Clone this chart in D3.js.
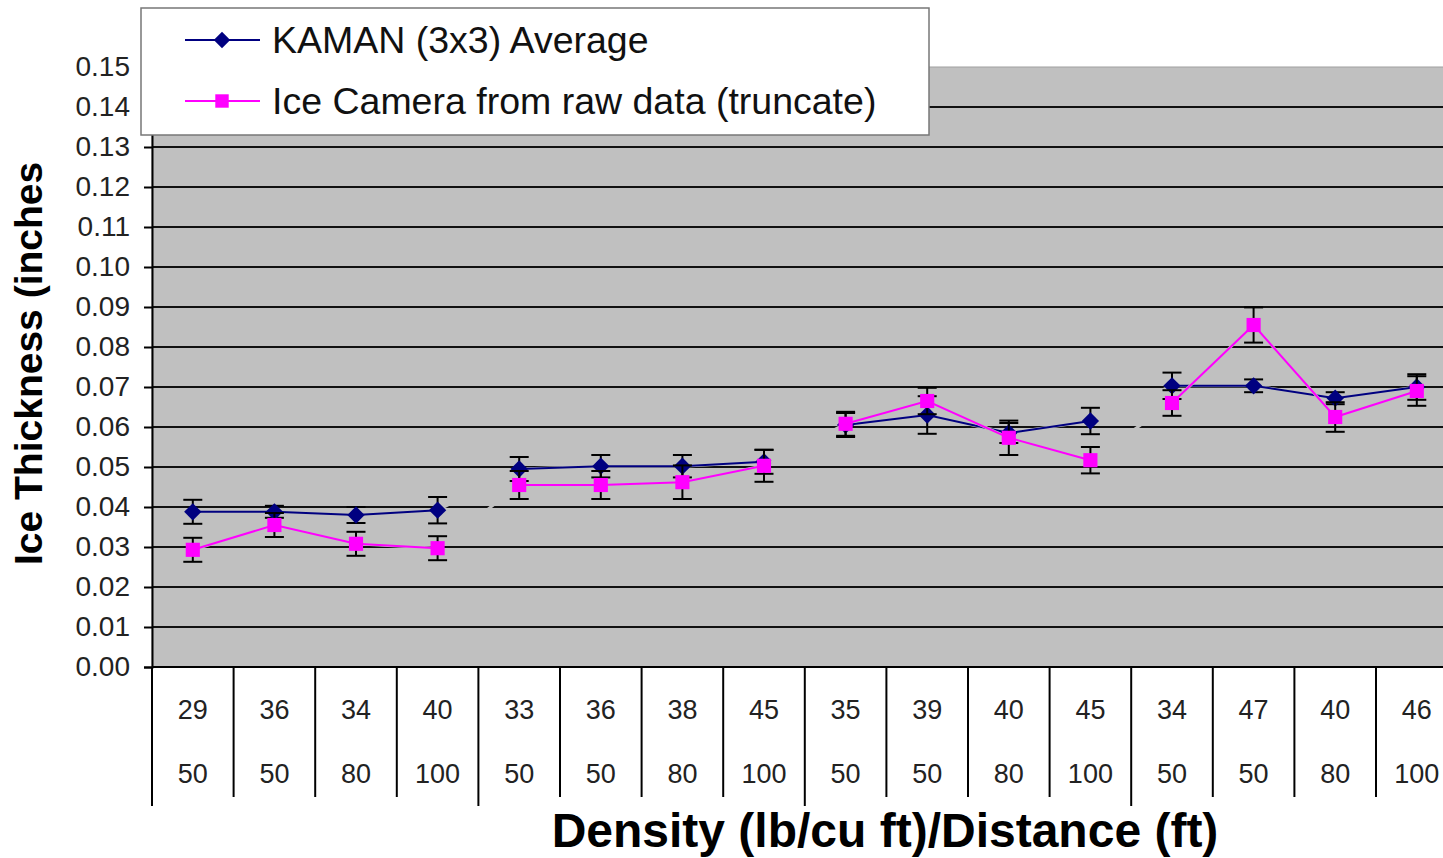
<!DOCTYPE html>
<html lang="en">
<head>
  <meta charset="UTF-8">
  <title>Ice Thickness vs Density / Distance</title>
  <script src="https://d3js.org/d3.v7.min.js"></script>
  <style>
    body { margin: 0; background: #fff; }
    svg { display: block; font-family: "Liberation Sans", Arial, sans-serif; }
    .tick-label { font-size: 28px; fill: #222; }
    .cat-label { font-size: 27px; fill: #222; text-anchor: middle; }
    .legend-text { font-size: 37.5px; fill: #111; }
    .axis-title { font-weight: bold; fill: #000; }
  </style>
</head>
<body>
  <div id="chart"></div>

  <script>
    // categories: density (lb/cu ft) over distance (ft)
    const densities = [29, 36, 34, 40, 33, 36, 38, 45, 35, 39, 40, 45, 34, 47, 40, 46];
    const distances = [50, 50, 80, 100, 50, 50, 80, 100, 50, 50, 80, 100, 50, 50, 80, 100];

    // KAMAN (3x3) Average
    const kaman    = [0.0388, 0.0388, 0.0380, 0.0392, 0.0495, 0.0502, 0.0502, 0.0513,
                      0.0605, 0.0630, 0.0585, 0.0615, 0.0703, 0.0703, 0.0672, 0.0700];
    const kamanErr = [0.0030, 0.0015, 0.0020, 0.0033, 0.0030, 0.0028, 0.0028, 0.0030,
                      0.0030, 0.0047, 0.0025, 0.0033, 0.0033, 0.0016, 0.0015, 0.0032];

    // Ice Camera from raw data (truncate)
    const camera    = [0.0293, 0.0355, 0.0308, 0.0297, 0.0455, 0.0455, 0.0462, 0.0503,
                       0.0608, 0.0665, 0.0573, 0.0517, 0.0660, 0.0855, 0.0625, 0.0690];
    const cameraErr = [0.0030, 0.0030, 0.0030, 0.0030, 0.0035, 0.0035, 0.0042, 0.0040,
                       0.0030, 0.0033, 0.0043, 0.0033, 0.0032, 0.0044, 0.0037, 0.0037];

    const yTicks = d3.range(0, 16).map(i => i / 100);
    const groupSize = 4;

    const W = 1443, H = 858;
    const plot = { left: 152, top: 67, bottom: 667, right: 152 + 16 * 81.6 };

    const svg = d3.select("#chart").append("svg")
      .attr("width", W)
      .attr("height", H);

    const idx = d3.range(densities.length);

    const x = d3.scaleBand()
      .domain(idx)
      .range([plot.left, plot.right])
      .padding(0);

    const y = d3.scaleLinear()
      .domain([0, 0.15])
      .range([plot.bottom, plot.top]);

    const cx = i => x(i) + x.bandwidth() / 2;

    // plot background
    svg.append("rect")
      .attr("x", plot.left)
      .attr("y", plot.top)
      .attr("width", plot.right - plot.left)
      .attr("height", plot.bottom - plot.top)
      .attr("fill", "#c0c0c0")
      .attr("stroke", "#a0a0a0")
      .attr("stroke-width", 1);

    // gridlines
    svg.append("g")
      .selectAll("line")
      .data(yTicks.filter(d => d > 0 && d < 0.15))
      .enter()
      .append("line")
      .attr("x1", plot.left)
      .attr("x2", plot.right)
      .attr("y1", d => y(d))
      .attr("y2", d => y(d))
      .attr("stroke", "#111")
      .attr("stroke-width", 2);

    // y axis
    const yAxis = svg.append("g")
      .attr("transform", `translate(${plot.left},0)`)
      .call(d3.axisLeft(y).tickValues(yTicks).tickFormat(d3.format(".2f")).tickSize(8).tickPadding(14));
    yAxis.select(".domain").attr("stroke", "#000").attr("stroke-width", 2);
    yAxis.selectAll(".tick line").attr("stroke", "#000").attr("stroke-width", 2);
    yAxis.selectAll(".tick text")
      .attr("class", "tick-label")
      .attr("font-family", null)
      .attr("font-size", null);

    // x axis line
    svg.append("line")
      .attr("x1", plot.left)
      .attr("x2", W)
      .attr("y1", plot.bottom)
      .attr("y2", plot.bottom)
      .attr("stroke", "#000")
      .attr("stroke-width", 2);

    // category dividers (longer ones separate the groups)
    svg.append("g")
      .selectAll("line")
      .data(idx)
      .enter()
      .append("line")
      .attr("x1", i => x(i))
      .attr("x2", i => x(i))
      .attr("y1", plot.bottom)
      .attr("y2", i => i % groupSize === 0 ? 806 : 797)
      .attr("stroke", "#000")
      .attr("stroke-width", 2);

    // category labels, two rows
    svg.append("g")
      .selectAll("text")
      .data(idx)
      .enter()
      .append("text")
      .attr("class", "cat-label")
      .attr("x", cx)
      .attr("y", 719)
      .text(i => densities[i]);

    svg.append("g")
      .selectAll("text")
      .data(idx)
      .enter()
      .append("text")
      .attr("class", "cat-label")
      .attr("x", cx)
      .attr("y", 783)
      .text(i => distances[i]);

    // diamond = square turned 45 degrees
    const series = [
      { name: "KAMAN (3x3) Average", values: kaman, err: kamanErr, color: "#000080", symbol: d3.symbolSquare, size: 150, rot: 45 },
      { name: "Ice Camera from raw data (truncate)", values: camera, err: cameraErr, color: "#ff00ff", symbol: d3.symbolSquare, size: 200, rot: 0 }
    ];

    const line = d3.line()
      .x(d => cx(d.i))
      .y(d => y(d.v));

    series.forEach(s => {
      const pts = s.values.map((v, i) => ({ i, v, e: s.err[i] }));
      const g = svg.append("g");

      // links between groups are drawn in the plot colour, hiding the gridlines
      g.append("path")
        .attr("d", line(pts))
        .attr("fill", "none")
        .attr("stroke", "#c0c0c0")
        .attr("stroke-width", 3);

      d3.groups(pts, d => Math.floor(d.i / groupSize)).forEach(([, grp]) => {
        g.append("path")
          .attr("d", line(grp))
          .attr("fill", "none")
          .attr("stroke", s.color)
          .attr("stroke-width", 2);
      });

      // error bars
      const eb = g.append("g").attr("stroke", "#000").attr("stroke-width", 2);
      pts.forEach(d => {
        const xc = cx(d.i);
        eb.append("line").attr("x1", xc).attr("x2", xc)
          .attr("y1", y(d.v - d.e)).attr("y2", y(d.v + d.e));
        eb.append("line").attr("x1", xc - 9.5).attr("x2", xc + 9.5)
          .attr("y1", y(d.v - d.e)).attr("y2", y(d.v - d.e));
        eb.append("line").attr("x1", xc - 9.5).attr("x2", xc + 9.5)
          .attr("y1", y(d.v + d.e)).attr("y2", y(d.v + d.e));
      });

      g.selectAll(".marker")
        .data(pts)
        .enter()
        .append("path")
        .attr("class", "marker")
        .attr("transform", d => `translate(${cx(d.i)},${y(d.v)}) rotate(${s.rot})`)
        .attr("d", d3.symbol().type(s.symbol).size(s.size))
        .attr("fill", s.color);
    });

    // legend
    const legend = svg.append("g");
    legend.append("rect")
      .attr("x", 141)
      .attr("y", 8)
      .attr("width", 788)
      .attr("height", 127)
      .attr("fill", "#fff")
      .attr("stroke", "#777")
      .attr("stroke-width", 1.5);

    series.forEach((s, k) => {
      const ly = 40 + k * 61;
      legend.append("line")
        .attr("x1", 185).attr("x2", 260)
        .attr("y1", ly).attr("y2", ly)
        .attr("stroke", s.color)
        .attr("stroke-width", 2);
      legend.append("path")
        .attr("transform", `translate(222,${ly}) rotate(${s.rot})`)
        .attr("d", d3.symbol().type(s.symbol).size(s.size * 0.9))
        .attr("fill", s.color);
      legend.append("text")
        .attr("class", "legend-text")
        .attr("x", 272)
        .attr("y", ly + 13)
        .text(s.name);
    });

    // axis titles
    svg.append("text")
      .attr("class", "axis-title")
      .attr("font-size", 39)
      .attr("transform", "translate(42,565) rotate(-90)")
      .text("Ice Thickness (inches");

    svg.append("text")
      .attr("class", "axis-title")
      .attr("font-size", 48)
      .attr("text-anchor", "middle")
      .attr("x", 885)
      .attr("y", 847)
      .text("Density (lb/cu ft)/Distance (ft)");
  </script>
</body>
</html>
